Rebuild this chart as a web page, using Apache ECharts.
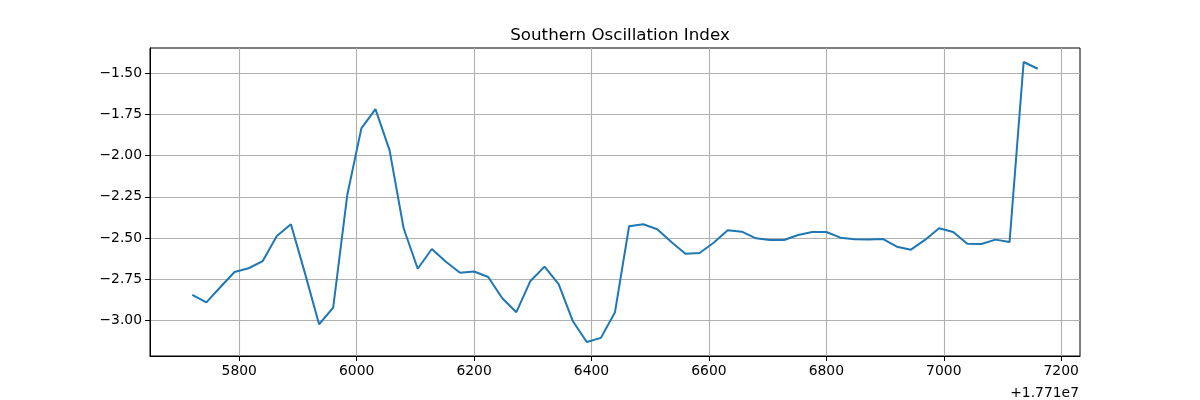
<!DOCTYPE html>
<html>
<head>
<meta charset="utf-8">
<script src="https://cdn.jsdelivr.net/npm/echarts@6/dist/echarts.min.js"></script>
<style>
  html, body { margin: 0; padding: 0; background: #fff; }
  #chart { width: 1200px; height: 400px; }
</style>
</head>
<body>
<div id="chart"></div>
<script>
// x values are offsets from 1.771e7
const xOffsets = [
  5720, 5744, 5768, 5792, 5816, 5840, 5864, 5888, 5912, 5936,
  5960, 5984, 6008, 6032, 6056, 6080, 6104, 6128, 6152, 6176,
  6200, 6224, 6248, 6272, 6296, 6320, 6344, 6368, 6392, 6416,
  6440, 6464, 6488, 6512, 6536, 6560, 6584, 6608, 6632, 6656,
  6680, 6704, 6728, 6752, 6776, 6800, 6824, 6848, 6872, 6896,
  6920, 6944, 6968, 6992, 7016, 7040, 7064, 7088, 7112, 7136,
  7160
]
const soiValues = [
  -2.845, -2.891, -2.798, -2.707, -2.684, -2.640, -2.488, -2.417, -2.715, -3.024,
  -2.923, -2.239, -1.834, -1.717, -1.966, -2.441, -2.687, -2.567, -2.644, -2.711,
  -2.704, -2.737, -2.866, -2.951, -2.761, -2.674, -2.781, -3.004, -3.132, -3.107,
  -2.951, -2.429, -2.417, -2.447, -2.525, -2.596, -2.591, -2.529, -2.453, -2.462,
  -2.502, -2.512, -2.512, -2.482, -2.464, -2.464, -2.498, -2.508, -2.510, -2.506,
  -2.553, -2.571, -2.512, -2.441, -2.464, -2.535, -2.537, -2.510, -2.525, -1.431,
  -1.472
]
const xTicks = [5800, 6000, 6200, 6400, 6600, 6800, 7000, 7200]
const yTicks = [-3.0, -2.75, -2.5, -2.25, -2.0, -1.75, -1.5]

const fontFamily = '"DejaVu Sans", sans-serif'
const chart = echarts.init(document.getElementById('chart'), null, { renderer: 'canvas' })

chart.setOption({
  animation: false,
  backgroundColor: '#ffffff',
  title: [
    {
      text: 'Southern Oscillation Index',
      left: 615, top: 22, textAlign: 'center',
      textStyle: { fontFamily, fontSize: 16.7, fontWeight: 'normal', color: '#000' }
    },
    {
      text: '+1.771e7',
      right: 116, top: 381,
      textStyle: { fontFamily, fontSize: 13.9, fontWeight: 'normal', color: '#000' }
    }
  ],
  grid: {
    left: 150, right: 120, top: 48, bottom: 44,
    show: true, borderColor: '#000', borderWidth: 1, backgroundColor: 'transparent'
  },
  xAxis: {
    type: 'value',
    min: 5648, max: 7232,
    axisLine: { show: true, onZero: false, lineStyle: { color: '#000', width: 1 } },
    axisTick: { show: true, length: 5, customValues: xTicks, lineStyle: { color: '#000' } },
    axisLabel: {
      customValues: xTicks, margin: 8,
      fontFamily, fontSize: 13.9, color: '#000',
      formatter: v => String(v)
    },
    splitLine: { show: true, lineStyle: { color: '#b0b0b0', width: 1.1 } }
  },
  yAxis: {
    type: 'value',
    min: -3.217, max: -1.346,
    axisLine: { show: true, onZero: false, lineStyle: { color: '#000', width: 1 } },
    axisTick: { show: true, length: 5, customValues: yTicks, lineStyle: { color: '#000' } },
    axisLabel: {
      customValues: yTicks, margin: 8,
      fontFamily, fontSize: 13.9, color: '#000',
      formatter: v => v.toFixed(2).replace('-', '\u2212')
    },
    splitLine: { show: true, lineStyle: { color: '#b0b0b0', width: 1.1 } }
  },
  series: [{
    type: 'line',
    data: xOffsets.map((x, i) => [x, soiValues[i]]),
    showSymbol: false,
    lineStyle: { color: '#1f77b4', width: 2 },
    itemStyle: { color: '#1f77b4' }
  }]
})
</script>
</body>
</html>
